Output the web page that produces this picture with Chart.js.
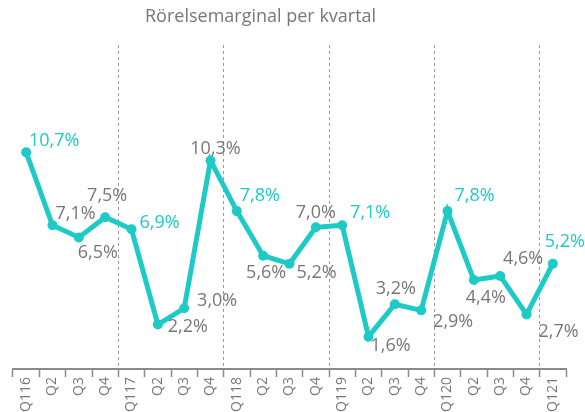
<!DOCTYPE html>
<html>
<head>
<meta charset="utf-8">
<script src="https://cdn.jsdelivr.net/npm/chart.js@4/dist/chart.umd.min.js"></script>
<style>
  html, body { margin: 0; padding: 0; background: #fff; }
  #wrap { width: 585px; height: 412px; }
</style>
</head>
<body>
<div id="wrap"><canvas id="myChart"></canvas></div>
<script>
var title = 'Rörelsemarginal per kvartal';
var labels = ['Q116', 'Q2', 'Q3', 'Q4', 'Q117', 'Q2', 'Q3', 'Q4', 'Q118', 'Q2', 'Q3', 'Q4',
              'Q119', 'Q2', 'Q3', 'Q4', 'Q120', 'Q2', 'Q3', 'Q4', 'Q121'];
var margin = [10.7, 7.1, 6.5, 7.5, 6.9, 2.2, 3.0, 10.3, 7.8, 5.6, 5.2, 7.0,
              7.1, 1.6, 3.2, 2.9, 7.8, 4.4, 4.6, 2.7, 5.2];

var teal = '#1ecac6';
var grey = '#777777';

// where each value label sits, relative to its point (dx, dy)
var labelPos = [[28, -11], [23, -11], [19, 15], [2, -21], [28, -6], [30, 2], [33, -7], [5, -12],
                [23, -15], [3, 17], [27, 9], [0, -14], [28, -12], [22, 9], [1, -15], [32, 12],
                [27, -15], [12, 18], [23, -17], [32, 17], [12, -22]];

function isYearStart(i) { return i % 4 === 0; }

const valueLabels = {
  id: 'valueLabels',
  afterDatasetsDraw(chart) {
    const ctx = chart.ctx;
    const meta = chart.getDatasetMeta(0);
    ctx.save();
    ctx.font = '18px "Open Sans"';
    ctx.textAlign = 'center';
    ctx.textBaseline = 'middle';
    meta.data.forEach(function (pt, i) {
      ctx.fillStyle = isYearStart(i) ? teal : grey;
      var txt = margin[i].toFixed(1).replace('.', ',') + '%';
      ctx.fillText(txt, pt.x + labelPos[i][0], pt.y + labelPos[i][1]);
    });
    ctx.restore();
  }
};

const topTitle = {
  id: 'topTitle',
  afterDraw(chart) {
    const ctx = chart.ctx;
    ctx.save();
    ctx.font = '18px "Open Sans"';
    ctx.fillStyle = grey;
    ctx.textAlign = 'left';
    ctx.textBaseline = 'middle';
    ctx.fillText(title, 145, 17);
    ctx.restore();
  }
};

const data = {
  labels: labels,
  datasets: [{
    data: margin,
    borderColor: teal,
    backgroundColor: teal,
    borderWidth: 5,
    pointRadius: 5,
    pointHoverRadius: 5,
    pointBackgroundColor: teal,
    pointBorderWidth: 0,
    tension: 0
  }]
};

const config = {
  type: 'line',
  data: data,
  plugins: [valueLabels, topTitle],
  options: {
    responsive: true,
    maintainAspectRatio: false,
    animation: false,
    layout: { padding: { left: 13, right: 19, top: 45, bottom: 0 } },
    plugins: { legend: { display: false }, tooltip: { enabled: false } },
    scales: {
      x: {
        offset: true,
        grid: {
          offset: true,
          drawOnChartArea: true,
          color: function (c) { return (c.index > 0 && c.index < labels.length && isYearStart(c.index)) ? '#9a9a9a' : 'rgba(0,0,0,0)'; },
          tickColor: '#8a8a8a',
          tickLength: 8,
          tickWidth: 1.5,
          tickBorderDash: [],
          lineWidth: 1
        },
        border: { display: true, color: '#8a8a8a', width: 2, dash: [3, 3] },
        ticks: {
          color: grey,
          font: { family: '"Open Sans"', size: 14 },
          minRotation: 90,
          maxRotation: 90,
          autoSkip: false,
          padding: 0
        }
      },
      y: {
        display: false,
        min: 0,
        max: 16
      }
    }
  }
};

const myChart = new Chart(document.getElementById('myChart'), config);
</script>
</body>
</html>
